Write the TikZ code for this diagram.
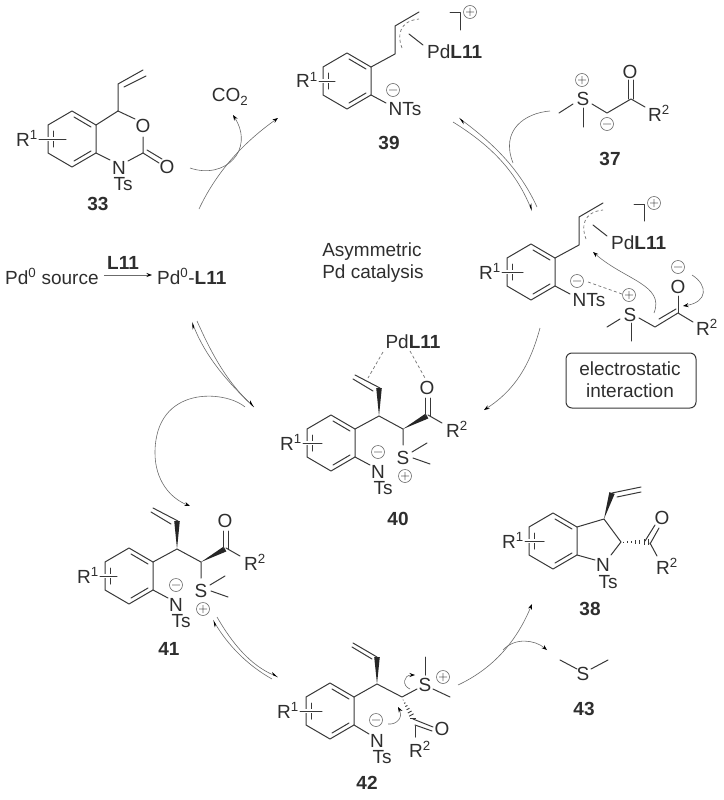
\documentclass[tikz,border=0pt]{standalone}
\usepackage{fontspec}
\setmainfont{Liberation Sans}
\usetikzlibrary{arrows.meta,calc}
\tikzset{
	bond/.style={line width=1pt, color=black!78, line cap=round, line join=round},
	dashbond/.style={line width=0.7pt, color=black!55, dash pattern=on 3pt off 2.5pt},
	chargeline/.style={line width=0.6pt, color=black!58},
	rxn/.style={line width=0.6pt, color=black!58, -{Stealth[length=5.5pt,width=4pt,color=black]}},
	halfrxn/.style={line width=0.6pt, color=black!58, -{Stealth[harpoon,length=6.5pt,width=4.5pt,color=black]}},
	plaincurve/.style={line width=0.6pt, color=black!58},
	atom/.style={inner sep=0pt, text=black!82, font=\fontsize{19}{22}\selectfont},
	numlabel/.style={inner sep=0pt, text=black!82, font=\fontsize{19}{22}\selectfont\bfseries},
}
\def\pluscharge(#1,#2){\draw[chargeline,shift={(#1,#2)}] (0,0) circle (6.5) (-4,0) -- (4,0) (0,-4) -- (0,4);}
\def\minuscharge(#1,#2){\draw[chargeline,shift={(#1,#2)}] (0,0) circle (6.5) (-4,0) -- (4,0);}
\def\wedgebond(#1)(#2){\fill[black!85] (#1) -- ($(#2)!2.8pt!90:(#1)$) -- ($(#2)!2.8pt!-90:(#1)$) -- cycle;}
\def\hashbond(#1)(#2){\foreach \t in {0.1,0.25,...,1.0}{
	\coordinate (hb) at ($(#1)!\t!(#2)$);
	\draw[line width=0.9pt, color=black!78] ($(hb)!\t*3pt!90:(#2)$) -- ($(hb)!\t*3pt!-90:(#2)$);}}
\def\arylring[#1](#2)(#3:#4){\begin{scope}[shift={(#2)}]
	\draw[bond] (0,-28) -- (24,-14) -- (24,14) -- (0,28) -- (-24,14) -- (-24,-14) -- cycle;
	\draw[bond] (2,-22) -- (19,-12);
	\draw[bond] (19,12) -- (2,22);
	\draw[bond] (-19,-8) -- (-19,8);
	\draw[bond,preaction={draw=white,line width=4.5pt}] (#3,0) -- (#4,0);
	\node[atom,anchor=base east] (#1R) at (#3-1,7) {R\textsuperscript{1}};
	\end{scope}}
\def\allylpd[#1](#2){\begin{scope}[shift={(#2)}]
	\draw[bond] (24,-14) -- (48,-27) -- (48,-55) -- (72,-69);
	\draw[dashbond] (55,-33) .. controls (50,-45) and (52,-60) .. (72,-62);
	\draw[bond] (62,-47) -- (76,-36);
	\node[atom,anchor=west] (#1Pd) at (80,-29) {Pd\textbf{L11}};
	\draw[bond] (103,-68) -- (113,-68) -- (113,-51);
	\pluscharge(123,-69)
	\draw[bond] (24,14) -- (39,22);
	\node[atom] (#1N) at (58,28) {NTs};
	\minuscharge(46,9)
	\end{scope}}
\def\sulfonium[#1](#2){\begin{scope}[shift={(#2)}]
	\draw[bond] (24,-14) -- (48,-27) -- (72,-14) -- (72,2);
	\wedgebond(48,-27)(48,-55)
	\draw[bond] (49,-55) -- (24,-68);
	\draw[bond] (22,-64) -- (42,-52);
	\wedgebond(72,-14)(96,-27)
	\draw[bond] (94,-27) -- (94,-45);
	\draw[bond] (99,-27) -- (99,-45);
	\node[atom] (#1O) at (96,-55) {O};
	\draw[bond] (97,-28) -- (111,-20);
	\node[atom,anchor=base west] (#1Rtwo) at (115,-6) {R\textsuperscript{2}};
	\node[atom] (#1S) at (72,15) {S};
	\draw[bond] (81,9) -- (96,0);
	\draw[bond] (82,15) -- (99,21);
	\pluscharge(74,33)
	\minuscharge(47,9)
	\draw[bond] (24,14) -- (39,22);
	\node[atom] (#1N) at (47,29) {N};
	\node[atom] (#1Ts) at (52,45) {Ts};
	\end{scope}}

\begin{document}
\begin{tikzpicture}[x=1pt,y=-1pt]
	\useasboundingbox (0,0) rectangle (723,800);
	
	%%%%% 33 %%%%%
	\arylring[ox](72,139)(-33:-6)
	\draw[bond] (96,125) -- (118,111) -- (118,84) -- (143,70);
	\draw[bond] (124,87) -- (146,76);
	\draw[bond] (118,111) -- (135,119);
	\node[atom] (oxO) at (143,126) {O};
	\draw[bond] (143,137) -- (143,153) -- (128,161);
	\draw[bond] (143,153) -- (159,163);
	\draw[bond] (147,150) -- (162,159);
	\node[atom] (oxOtwo) at (167,167) {O};
	\draw[bond] (96,153) -- (110,160);
	\node[atom] (oxN) at (119,168) {N};
	\node[atom] (oxTs) at (123,184) {Ts};
	\node[numlabel] (lbl33) at (98,204) {33};
	
	\draw[rxn] (199,209) .. controls (215,175) and (240,145) .. (278,118);
	\draw[rxn] (190,168) .. controls (225,180) and (255,150) .. (233,115);
	\node[atom] (co2) at (230,97) {CO\textsubscript{2}};
	
	%%%%% source %%%%%
	\node[atom,anchor=base west] (pdsource) at (5,284) {Pd\textsuperscript{0} source};
	\node[atom,anchor=base west] (pdcat) at (157,284) {Pd\textsuperscript{0}-\textbf{L11}};
	\draw[rxn,shorten <=5pt,shorten >=5pt] (pdsource.east |- 0,275) -- (pdcat.west |- 0,275);
	\node[numlabel] (ligand) at (123,263) {L11};
	\node[atom,align=left] (asym) at (373,263) {Asymmetric\\Pd catalysis};
	
	%%%%% 39 %%%%%
	\arylring[pi](347,81)(-28:-12)
	\allylpd[pi](347,81)
	\node[numlabel] (lbl39) at (389,143) {39};
	
	\draw[halfrxn] (537,207) .. controls (520,170) and (495,145) .. (459,118);
	\draw[halfrxn] (453,122) .. controls (490,145) and (515,170) .. (532,211);
	
	%%%%% 37 %%%%%
	\node[atom] (ylS) at (583,99) {S};
	\draw[bond] (573,104) -- (559,113);
	\draw[bond] (583,108) -- (583,127);
	\draw[bond] (592,104) -- (607,113) -- (631,99) -- (645,107);
	\draw[bond] (628.5,99) -- (628.5,80);
	\draw[bond] (633.5,99) -- (633.5,80);
	\node[atom] (ylO) at (630,72) {O};
	\node[atom,anchor=base west] (ylR) at (648,121) {R\textsuperscript{2}};
	\pluscharge(582,80)
	\minuscharge(607,124)
	\node[numlabel] (lbl37) at (610,159) {37};
	\draw[plaincurve] (550,111) .. controls (525,113) and (500,130) .. (513,163);
	
	%%%%% 39 + 37 %%%%%
	\arylring[ts](531,272)(-29:-8)
	\allylpd[ts](531,272)
	\draw[dashbond] (588,282) -- (622,294);
	\pluscharge(629,295)
	\node[atom] (tsS) at (630,315) {S};
	\draw[bond] (620,319) -- (607,327);
	\draw[bond] (631,323) -- (631,341);
	\draw[bond] (639,318) -- (655,327) -- (678,313) -- (693,322);
	\draw[bond] (659,319) -- (676,309);
	\draw[bond] (678,313) -- (678,296);
	\node[atom] (tsO) at (678,287) {O};
	\node[atom,anchor=base west] (tsRtwo) at (696,335) {R\textsuperscript{2}};
	\minuscharge(678,267)
	\draw[rxn] (692,275) .. controls (708,285) and (708,302) .. (683,306);
	\draw[rxn] (654,313) .. controls (665,285) and (625,280) .. (593,252);
	\draw[bond,rounded corners=6pt] (566,353) rectangle (696,408);
	\node[atom,align=center] (estat) at (630,380) {electrostatic\\interaction};
	
	\draw[rxn] (540,328) .. controls (530,365) and (515,390) .. (484,410);
	
	%%%%% 40 %%%%%
	\arylring[pa](331,443)(-28:-9)
	\sulfonium[pa](331,443)
	\node[atom] (paPd) at (413,342) {Pd\textbf{L11}};
	\draw[dashbond] (383,352) -- (368,378);
	\draw[dashbond] (410,351) -- (425,378);
	\node[numlabel] (lbl40) at (398,519) {40};
	
	\draw[halfrxn] (254,407) .. controls (225,380) and (205,355) .. (192,322);
	\draw[halfrxn] (197,321) .. controls (210,350) and (225,380) .. (254,407);
	\draw[rxn] (245,407) .. controls (225,390) and (155,385) .. (155,453) .. controls (155,480) and (170,498) .. (190,506);
	
	%%%%% 41 %%%%%
	\arylring[re](129,576)(-29:-12)
	\sulfonium[re](129,576)
	\node[numlabel] (lbl41) at (169,649) {41};
	
	\draw[halfrxn] (217,617) .. controls (232,643) and (250,665) .. (278,677);
	\draw[halfrxn] (272,679) .. controls (247,665) and (228,645) .. (213,620);
	
	%%%%% 42 %%%%%
	\arylring[be](330,711)(-30:-8)
	\draw[bond] (354,697) -- (377,684) -- (402,697) -- (417,689);
	\wedgebond(377,684)(377,657)
	\draw[bond] (377,657) -- (353,643);
	\draw[bond] (372,659) -- (352,647);
	\node[atom] (beS) at (425,685) {S};
	\draw[bond] (425,657) -- (425,675);
	\draw[bond] (433,689) -- (450,697);
	\pluscharge(443,677)
	\hashbond(402,698)(413,718)
	\draw[bond] (413,719) -- (433,727);
	\draw[bond] (415,725) -- (432,731);
	\node[atom] (beO) at (442,729) {O};
	\draw[bond] (415,726) -- (415,737);
	\node[atom,anchor=base west] (beRtwo) at (409,757) {R\textsuperscript{2}};
	\minuscharge(376,720)
	\draw[bond] (354,725) -- (369,734);
	\node[atom] (beN) at (377,741) {N};
	\node[atom] (beTs) at (382,757) {Ts};
	\node[numlabel] (lbl42) at (367,783) {42};
	\draw[rxn] (388,724) .. controls (398,725) and (403,716) .. (398,707);
	\draw[rxn] (410,689) .. controls (402,686) and (403,675) .. (415,675);
	
	\draw[rxn] (458,685) .. controls (490,670) and (515,645) .. (532,604);
	\draw[rxn] (503,650) .. controls (515,637) and (535,640) .. (547,650);
	
	%%%%% 38 %%%%%
	\arylring[in](553,541)(-28:-9)
	\draw[bond] (577,527) -- (604,519) -- (621,542) -- (611,555);
	\wedgebond(604,519)(612,493)
	\draw[bond] (612,493) -- (641,487);
	\draw[bond] (617,497) -- (641,492);
	\draw[bond] (577,555) -- (595,560);
	\node[atom] (inN) at (603,565) {N};
	\node[atom] (inTs) at (608,582) {Ts};
	\hashbond(621,542)(648,542)
	\draw[bond] (645,541) -- (655,525);
	\draw[bond] (650,544) -- (659,528);
	\node[atom] (inO) at (662,518) {O};
	\draw[bond] (650,543) -- (657,556);
	\node[atom,anchor=base west] (inRtwo) at (656,574) {R\textsuperscript{2}};
	\node[numlabel] (lbl38) at (590,609) {38};
	
	%%%%% 43 %%%%%
	\node[atom] (dmsS) at (583,674) {S};
	\draw[bond] (560,660) -- (577,669);
	\draw[bond] (591,669) -- (608,660);
	\node[numlabel] (lbl43) at (584,709) {43};
\end{tikzpicture}
\end{document}
